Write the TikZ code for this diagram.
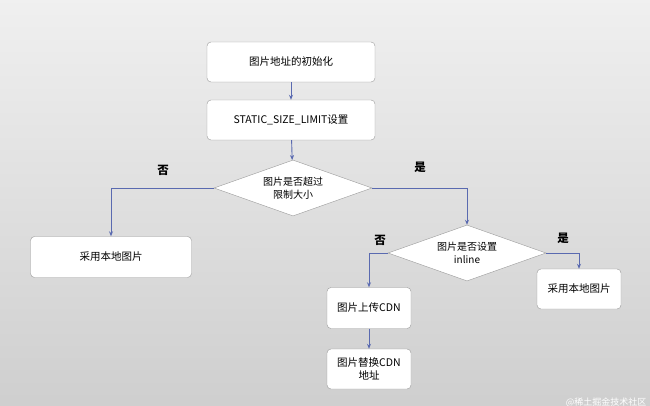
\documentclass[tikz,border=0pt]{standalone}
\usepackage{fontspec}
\setmainfont{Noto Sans CJK SC}
\usetikzlibrary{shapes.geometric,arrows.meta}
\definecolor{ln}{HTML}{5A6AB0}
\begin{document}
\begin{tikzpicture}[x=1pt,y=-1pt,
  box/.style={draw=gray!80,fill=white,rounded corners=4pt,minimum width=#1,inner sep=0pt,font=\fontsize{10.5}{13}\selectfont,align=center},
  dia/.style={draw=gray!80,fill=white,diamond,aspect=2.8,inner sep=0pt,font=\fontsize{10}{13}\selectfont,align=center},
  arr/.style={draw=ln,line width=0.9pt,-{Stealth[length=5pt,width=4pt]}},
  lab/.style={font=\bfseries\fontsize{11.5}{12}\selectfont}]
\useasboundingbox (0,0) rectangle (650,406);
\shade[top color=gray!12,bottom color=gray!38] (0,0) rectangle (650,406);
\node[box=168pt,minimum height=40pt] (a) at (291,62) {图片地址的初始化};
\node[box=168pt,minimum height=40pt] (b) at (291,120) {STATIC\_SIZE\_LIMIT设置};
\node[dia,minimum width=158pt,minimum height=56pt] (d1) at (293,188) {图片是否超过\\限制大小};
\node[box=161pt,minimum height=41pt] (c) at (111,257) {采用本地图片};
\node[dia,minimum width=158pt,minimum height=56pt] (d2) at (467,253) {图片是否设置\\inline};
\node[box=84pt,minimum height=41pt] (e) at (369,308) {图片上传CDN};
\node[box=84pt,minimum height=40pt] (f) at (369,369) {图片替换CDN\\地址};
\node[box=84pt,minimum height=40pt] (g) at (579,289) {采用本地图片};
\draw[arr] (a) -- (b);
\draw[arr] (b) -- (d1);
\draw[arr] (d1.west) -| (c.north);
\draw[arr] (d1.east) -| (d2.north);
\draw[arr] (d2.west) -| (e.north);
\draw[arr] (e) -- (f);
\draw[arr] (d2.east) -| (g.north);
\node[lab] (n1) at (163,170) {否};
\node[lab] (y1) at (420,167) {是};
\node[lab] (n2) at (380,240) {否};
\node[lab] (y2) at (563,238) {是};
\node[font=\fontsize{9}{9}\selectfont,text=white,anchor=east] (w) at (650,402) {@稀土掘金技术社区};
\end{tikzpicture}
\end{document}
